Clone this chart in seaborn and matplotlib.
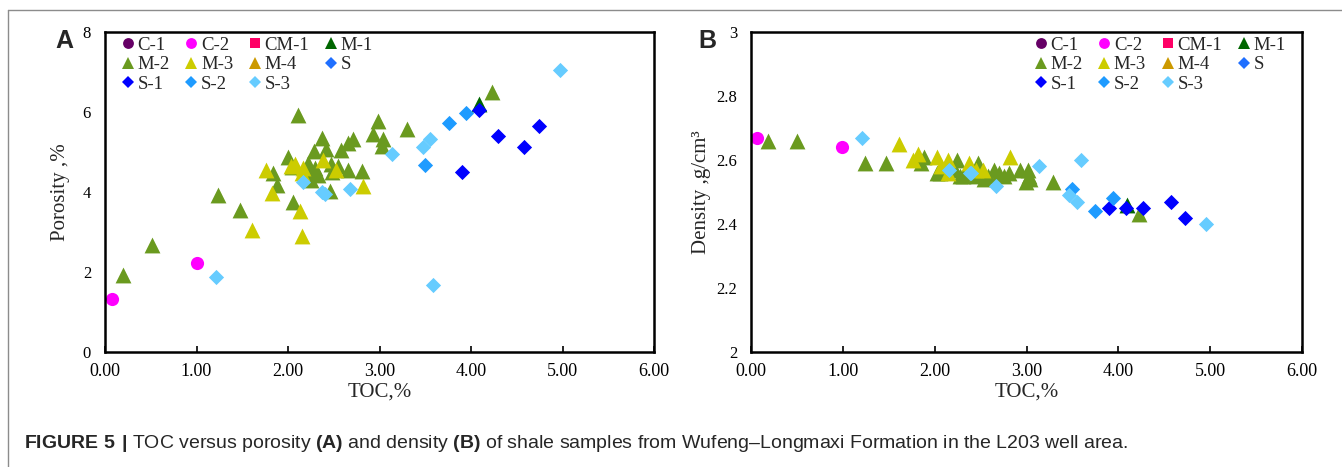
import matplotlib.pyplot as plt
import numpy as np
import pandas as pd
import seaborn as sns
from matplotlib.lines import Line2D

# well groups in legend / drawing order
groups = ['C-1', 'C-2', 'CM-1', 'M-1', 'M-2', 'M-3', 'M-4', 'S', 'S-1', 'S-2', 'S-3']
colors = ['#660066', '#ff00ff', '#ff0066', '#006600', '#6a9a1f', '#cccc00',
          '#cc9900', '#1f6fff', '#0000ff', '#1e9bff', '#66ccff']
shapes = ['o', 'o', 's', '^', '^', '^', '^', 'D', 'D', 'D', 'D']

# panel A: TOC (%) vs porosity (%)
c2_toc_a = [0.08, 1.00]
c2_por = [1.33, 2.22]
m1_toc_a = [4.09]
m1_por = [6.20]
m2_toc_a = [0.20, 0.51, 1.24, 1.48, 1.84, 1.88, 2.00, 2.04, 2.06, 2.11,
            2.22, 2.24, 2.25, 2.28, 2.30, 2.33, 2.37, 2.41, 2.46, 2.47,
            2.48, 2.55, 2.58, 2.66, 2.66, 2.71, 2.81, 2.93, 2.98, 3.03,
            3.04, 3.30, 4.23]
m2_por = [1.93, 2.68, 3.92, 3.56, 4.48, 4.18, 4.87, 4.62, 3.74, 5.92,
          4.72, 4.45, 4.30, 5.02, 4.60, 4.42, 5.35, 5.07, 4.02, 4.70,
          4.50, 4.65, 5.05, 5.22, 4.55, 5.32, 4.52, 5.46, 5.77, 5.16,
          5.32, 5.57, 6.50]
m3_toc_a = [1.61, 1.76, 1.83, 2.03, 2.08, 2.13, 2.15, 2.15, 2.16, 2.38, 2.53, 2.82]
m3_por = [3.05, 4.55, 3.98, 4.65, 4.70, 3.53, 2.89, 4.47, 4.60, 4.80, 4.55, 4.16]
s1_toc_a = [3.90, 4.09, 4.29, 4.58, 4.74]
s1_por = [4.49, 6.06, 5.40, 5.12, 5.64]
s2_toc_a = [3.50, 3.76, 3.95]
s2_por = [4.68, 5.73, 5.97]
s3_toc_a = [1.21, 2.16, 2.37, 2.40, 2.68, 3.14, 3.47, 3.55, 3.59, 4.97]
s3_por = [1.87, 4.25, 3.99, 3.96, 4.08, 4.94, 5.12, 5.33, 1.67, 7.06]

# panel B: TOC (%) vs density (g/cm3)
c2_toc_b = [0.07, 0.99]
c2_den = [2.67, 2.64]
m1_toc_b = [4.09]
m1_den = [2.46]
m2_toc_b = [0.19, 0.50, 1.24, 1.47, 1.85, 1.88, 2.02, 2.06, 2.22, 2.24,
            2.28, 2.31, 2.37, 2.45, 2.47, 2.54, 2.58, 2.65, 2.70, 2.75,
            2.81, 2.93, 2.99, 3.02, 3.03, 3.04, 3.29, 4.23]
m2_den = [2.66, 2.66, 2.59, 2.59, 2.59, 2.61, 2.56, 2.56, 2.57, 2.60,
          2.55, 2.55, 2.56, 2.55, 2.59, 2.54, 2.55, 2.57, 2.56, 2.55,
          2.56, 2.57, 2.53, 2.57, 2.55, 2.54, 2.53, 2.43]
m3_toc_b = [1.61, 1.76, 1.82, 2.02, 2.07, 2.14, 2.14, 2.37, 2.45, 2.53, 2.82]
m3_den = [2.65, 2.60, 2.62, 2.61, 2.58, 2.60, 2.56, 2.59, 2.57, 2.57, 2.61]
s1_toc_b = [3.90, 4.08, 4.27, 4.57, 4.73]
s1_den = [2.45, 2.45, 2.45, 2.47, 2.42]
s2_toc_b = [3.50, 3.75, 3.94]
s2_den = [2.51, 2.44, 2.48]
s3_toc_b = [1.21, 2.16, 2.38, 2.40, 2.67, 3.14, 3.46, 3.55, 3.59, 4.96]
s3_den = [2.67, 2.57, 2.56, 2.56, 2.52, 2.58, 2.49, 2.47, 2.60, 2.40]

x_ticks = [0, 1, 2, 3, 4, 5, 6]
x_labels = ['0.00', '1.00', '2.00', '3.00', '4.00', '5.00', '6.00']
por_ticks = [0, 2, 4, 6, 8]
por_labels = ['0', '2', '4', '6', '8']
den_ticks = [2.0, 2.2, 2.4, 2.6, 2.8, 3.0]
den_labels = ['2', '2.2', '2.4', '2.6', '2.8', '3']

caption = (r"$\mathbf{FIGURE\ 5\ |}$ TOC versus porosity $\mathbf{(A)}$ and density "
           r"$\mathbf{(B)}$ of shale samples from Wufeng–Longmaxi Formation in the L203 well area.")

sns.set(style="white")
plt.rcParams['font.family'] = ['Liberation Serif', 'DejaVu Serif']
plt.rcParams['mathtext.fontset'] = 'custom'
plt.rcParams['mathtext.rm'] = 'Liberation Sans'
plt.rcParams['mathtext.bf'] = 'Liberation Sans:bold'

marker_size = {'o': 90, 's': 70, '^': 130, 'D': 60}
legend_size = {'o': 7.8, 's': 6.6, '^': 9.2, 'D': 6.0}


def frame(parts, ycol):
    dfs = [pd.DataFrame({'group': g, 'TOC': xs, ycol: ys}) for g, xs, ys in parts]
    return pd.concat(dfs, ignore_index=True)


df_a = frame([('C-2', c2_toc_a, c2_por), ('M-1', m1_toc_a, m1_por),
              ('M-2', m2_toc_a, m2_por), ('M-3', m3_toc_a, m3_por),
              ('S-1', s1_toc_a, s1_por), ('S-2', s2_toc_a, s2_por),
              ('S-3', s3_toc_a, s3_por)], 'value')
df_b = frame([('C-2', c2_toc_b, c2_den), ('M-1', m1_toc_b, m1_den),
              ('M-2', m2_toc_b, m2_den), ('M-3', m3_toc_b, m3_den),
              ('S-1', s1_toc_b, s1_den), ('S-2', s2_toc_b, s2_den),
              ('S-3', s3_toc_b, s3_den)], 'value')

W, H = 1342, 467
fig = plt.figure(figsize=(W / 100, H / 100), dpi=100)
ax_a = fig.add_axes([105 / W, 1 - 352 / H, 549 / W, 320 / H])
ax_b = fig.add_axes([751 / W, 1 - 352 / H, 551 / W, 320 / H])

# legend reordered so ncol=4 fills row by row
order = [0, 4, 8, 1, 5, 9, 2, 6, 10, 3, 7]

for ax, df, ylim, yt, ytl, ylab, lx, ly in [
        (ax_a, df_a, (0, 8), por_ticks, por_labels, 'Porosity ,%', 0.028, -0.064),
        (ax_b, df_b, (2, 3), den_ticks, den_labels, 'Density ,g/cm³', 0.512, -0.072)]:
    for g, c, m in zip(groups, colors, shapes):
        sub = df[df['group'] == g]
        if len(sub) == 0:
            continue
        sns.scatterplot(data=sub, x='TOC', y='value', color=c, marker=m,
                        s=marker_size[m], linewidth=0, ax=ax, legend=False)
    ax.set_xlim(0, 6)
    ax.set_ylim(*ylim)
    ax.set_xticks(x_ticks)
    ax.set_xticklabels(x_labels)
    ax.set_yticks(yt)
    ax.set_yticklabels(ytl)
    ax.tick_params(axis='x', direction='in', length=4, width=1.2, pad=8,
                   labelsize=13, colors='black', bottom=True)
    ax.tick_params(axis='y', length=0, pad=10, labelsize=12, colors='black', left=True)
    for sp in ax.spines.values():
        sp.set_linewidth(1.8)
        sp.set_color('black')
    ax.set_xlabel('TOC,%', fontsize=15)
    ax.set_ylabel(ylab, fontsize=15)
    ax.xaxis.set_label_coords(0.5, -0.095)
    ax.yaxis.set_label_coords(ly, 0.5)
    handles = [Line2D([], [], linestyle='none', marker=shapes[i], color=colors[i],
                      markeredgewidth=0, markersize=legend_size[shapes[i]])
               for i in order]
    labels = [groups[i] for i in order]
    ax.legend(handles, labels, ncol=4, loc='upper left', bbox_to_anchor=(lx, 0.985),
              frameon=False, borderpad=0, borderaxespad=0, handlelength=0.8,
              handletextpad=0.12, columnspacing=0.75, labelspacing=0.12, fontsize=13.5)

fig.text(55 / W, 1 - 48 / H, 'A', fontsize=18, fontweight='bold',
         family='Liberation Sans', va='baseline')
fig.text(698 / W, 1 - 48 / H, 'B', fontsize=18, fontweight='bold',
         family='Liberation Sans', va='baseline')
fig.text(24 / W, 1 - 448 / H, caption, fontsize=14, family='Liberation Sans',
         va='baseline')

# partial frame around the figure
fig.add_artist(Line2D([8 / W, 8 / W], [1 - 10 / H, 0], color='#8c8c8c', lw=1))
fig.add_artist(Line2D([8 / W, 1], [1 - 10 / H, 1 - 10 / H], color='#8c8c8c', lw=1))

fig.savefig('out.png', dpi=100)
